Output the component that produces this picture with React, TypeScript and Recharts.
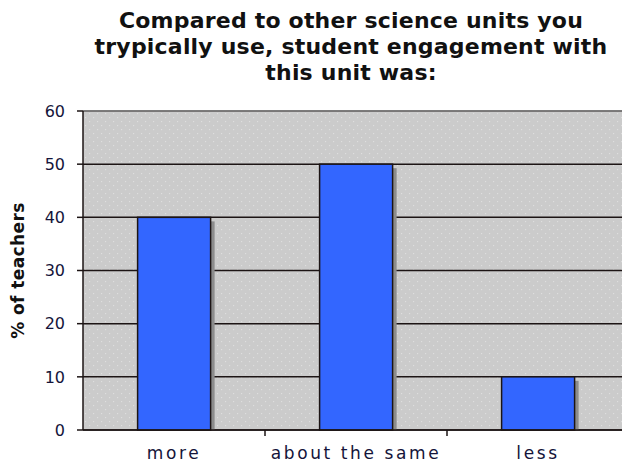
import React from "react";
import { BarChart, Bar, XAxis, YAxis, CartesianGrid, ReferenceLine } from "recharts";

const categories = ["more", "about the same", "less"];
const teacherPct = [40, 50, 10];
const yTicks = [0, 10, 20, 30, 40, 50, 60];

const data = categories.map((name, i) => ({ name, value: teacherPct[i] }));

const FONT = "'DejaVu Sans', Verdana, sans-serif";
const TEXT = "#14143a";

// blue bar with the little gray drop shadow on the right
function ShadowBar(props: any) {
    const { x, y, width, height } = props;
    if (!height) return null;
    return (
        <g>
            <rect x={x + 4} y={y + 4} width={width} height={height - 4} fill="#8c8c8c" />
            <rect x={x} y={y} width={width} height={height} fill="#3366ff" stroke="#1c1414" strokeWidth={1.5} />
        </g>
    );
}

// category label plus a tick mark at the right edge of each band
function CategoryTick(props: any) {
    const { x, y, payload, width } = props;
    const half = (width || 546) / categories.length / 2;
    return (
        <g>
            {payload.index < categories.length - 1 && (
                <line x1={x + half} x2={x + half} y1={y - 8} y2={y - 2} stroke="#1c1414" strokeWidth={1.5} />
            )}
            <text x={x} y={y + 21} textAnchor="middle" fill={TEXT} fontFamily={FONT} fontSize={17} letterSpacing={2.6}>
                {payload.value}
            </text>
        </g>
    );
}

function YLabel(props: any) {
    const vb = props.viewBox || { x: 0, y: 111, height: 319 };
    const cx = vb.x + 18;
    const cy = vb.y + vb.height / 2;
    return (
        <text x={cx} y={cy} transform={`rotate(-90, ${cx}, ${cy})`} textAnchor="middle" dominantBaseline="central"
            fontFamily={FONT} fontWeight="bold" fontSize={17} letterSpacing={0.4} fill="#111">
            % of teachers
        </text>
    );
}

export default function App() {
    return (
        <div style={{ position: "absolute", left: 0, top: 0, width: 622, height: 465, overflow: "hidden", background: "#fff" }}>
            <div style={{
                position: "absolute", left: 81, top: 8, width: 540, textAlign: "center",
                fontFamily: FONT, fontWeight: "bold", fontSize: 22, letterSpacing: 0.2, lineHeight: "26px", color: "#111",
                whiteSpace: "nowrap",
            }}>
                Compared to other science units you<br />
                trypically use, student engagement with<br />
                this unit was:
            </div>
            <BarChart width={629} height={465} data={data} margin={{ top: 111, right: 0, bottom: 0, left: 0 }} barCategoryGap="30%">
                <defs>
                    <pattern id="dots" width="8" height="8" patternUnits="userSpaceOnUse">
                        <rect width="8" height="8" fill="#cbcbcb" />
                        <rect x="1" y="1" width="1.2" height="1.2" fill="#dedede" />
                        <rect x="5" y="5" width="1.2" height="1.2" fill="#dedede" />
                    </pattern>
                </defs>
                <CartesianGrid vertical={false} fill="url(#dots)" stroke="#1c1414" strokeWidth={1.5} fillOpacity={1} />
                <ReferenceLine y={60} stroke="#8a8a8a" strokeWidth={1.5} />
                <XAxis
                    dataKey="name"
                    height={35}
                    stroke="#1c1414"
                    strokeWidth={1.5}
                    tickLine={false}
                    tick={<CategoryTick />}
                    interval={0}
                />
                <YAxis
                    width={83}
                    domain={[0, 60]}
                    ticks={yTicks}
                    stroke="#1c1414"
                    strokeWidth={1.5}
                    tickSize={6}
                    tickMargin={12}
                    tick={{ fill: TEXT, fontFamily: FONT, fontSize: 16 }}
                    label={{ content: YLabel }}
                />
                <Bar dataKey="value" shape={ShadowBar} isAnimationActive={false} />
            </BarChart>
        </div>
    );
}
